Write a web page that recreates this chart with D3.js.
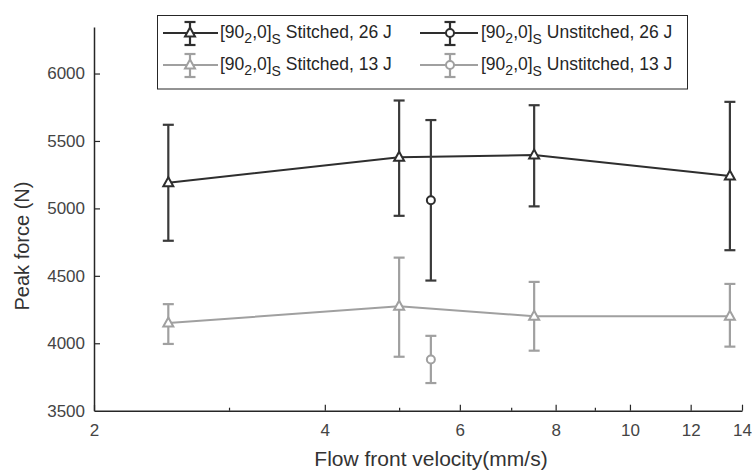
<!DOCTYPE html>
<html>
<head>
<meta charset="utf-8">
<script src="https://cdn.jsdelivr.net/npm/d3@7"></script>
<style>
  html, body { margin: 0; padding: 0; background: #fff; }
  svg { display: block; font-family: "Liberation Sans", Arial, Helvetica, sans-serif; }
</style>
</head>
<body>
<svg id="chart" width="752" height="471"></svg>
<script>
// ---- data ----
const velocities = [2.5, 5.0, 7.5, 13.5];
const stitched26 = [5190, 5380, 5395, 5240];
const stitched26Low = [4760, 4945, 5015, 4690];
const stitched26High = [5620, 5800, 5765, 5790];

const unstitchedVel = [5.5];
const unstitched26 = [5060];
const unstitched26Low = [4465];
const unstitched26High = [5655];

const stitched13 = [4150, 4275, 4200, 4200];
const stitched13Low = [3995, 3900, 3945, 3975];
const stitched13High = [4290, 4635, 4455, 4440];

const unstitched13 = [3880];
const unstitched13Low = [3705];
const unstitched13High = [4055];

const xMajorTicks = [2, 4, 6, 8, 10, 12, 14];
const xMinorTicks = [3, 5, 7, 9];
const yTicks = [3500, 4000, 4500, 5000, 5500, 6000];

const seriesNames = ["Stitched, 26 J", "Unstitched, 26 J", "Stitched, 13 J", "Unstitched, 13 J"];

// ---- layout ----
const svg = d3.select("#chart");
const dark = "#2e2e2e", gray = "#a0a0a0", axisCol = "#262626";

const x = d3.scaleLog().domain([2, 14]).range([94, 742]);
const y = d3.scaleLinear().domain([3500, 6345]).range([410.7, 27]);

// axes
const xAxis = d3.axisBottom(x).tickValues(xMajorTicks).tickFormat(d3.format("d")).tickSizeInner(-6).tickSizeOuter(0).tickPadding(13);
const gx = svg.append("g").attr("transform", `translate(0,${y(3500)})`).call(xAxis);
gx.select(".domain").attr("stroke", axisCol).attr("stroke-width", 1.5);
gx.selectAll(".tick line").attr("stroke", axisCol).attr("stroke-width", 1.2);
gx.selectAll(".tick text").attr("font-size", 17).attr("fill", "#444").attr("font-family", "Liberation Sans, Arial, sans-serif");

const xMinor = d3.axisBottom(x).tickValues(xMinorTicks).tickFormat("").tickSizeInner(-3).tickSizeOuter(0);
const gxm = svg.append("g").attr("transform", `translate(0,${y(3500)})`).call(xMinor);
gxm.select(".domain").remove();
gxm.selectAll(".tick line").attr("stroke", axisCol).attr("stroke-width", 1.2);

const yAxis = d3.axisLeft(y).tickValues(yTicks).tickFormat(d3.format("d")).tickSizeInner(-6).tickSizeOuter(0).tickPadding(9);
const gy = svg.append("g").attr("transform", `translate(${x(2)},0)`).call(yAxis);
gy.select(".domain").attr("stroke", axisCol).attr("stroke-width", 1.5);
gy.selectAll(".tick line").attr("stroke", axisCol).attr("stroke-width", 1.2);
gy.selectAll(".tick text").attr("font-size", 17).attr("fill", "#444").attr("font-family", "Liberation Sans, Arial, sans-serif");
gy.selectAll(".tick").filter(d => d === 3500).select("line").remove();

// axis labels
svg.append("text").attr("x", 431).attr("y", 466).attr("text-anchor", "middle")
  .attr("font-size", 21).attr("fill", "#333").text("Flow front velocity(mm/s)");
svg.append("text").attr("transform", "translate(29,246) rotate(-90)").attr("text-anchor", "middle")
  .attr("font-size", 20).attr("fill", "#333").text("Peak force (N)");

// ---- marks ----
function errorBars(xs, lo, hi, color) {
  const g = svg.append("g").attr("stroke", color).attr("stroke-width", 2.2).attr("fill", "none");
  xs.forEach((v, i) => {
    const cx = x(v);
    g.append("line").attr("x1", cx).attr("x2", cx).attr("y1", y(lo[i])).attr("y2", y(hi[i]));
    g.append("line").attr("x1", cx - 5.5).attr("x2", cx + 5.5).attr("y1", y(lo[i])).attr("y2", y(lo[i]));
    g.append("line").attr("x1", cx - 5.5).attr("x2", cx + 5.5).attr("y1", y(hi[i])).attr("y2", y(hi[i]));
  });
}
function lineSeries(xs, vals, color) {
  const line = d3.line().x((d, i) => x(xs[i])).y(d => y(d));
  svg.append("path").datum(vals).attr("d", line).attr("fill", "none").attr("stroke", color).attr("stroke-width", 2);
}
const triPath = "M0,-5.5 L5,3.5 L-5,3.5 Z";
function triangles(xs, vals, color) {
  xs.forEach((v, i) => {
    svg.append("path").attr("d", triPath).attr("transform", `translate(${x(v)},${y(vals[i])})`)
      .attr("fill", "#fff").attr("stroke", color).attr("stroke-width", 2).attr("stroke-linejoin", "miter");
  });
}
function circles(xs, vals, color) {
  xs.forEach((v, i) => {
    svg.append("circle").attr("cx", x(v)).attr("cy", y(vals[i])).attr("r", 4)
      .attr("fill", "#fff").attr("stroke", color).attr("stroke-width", 2);
  });
}

errorBars(velocities, stitched13Low, stitched13High, gray);
lineSeries(velocities, stitched13, gray);
triangles(velocities, stitched13, gray);
errorBars(unstitchedVel, unstitched13Low, unstitched13High, gray);
circles(unstitchedVel, unstitched13, gray);

errorBars(velocities, stitched26Low, stitched26High, "#3a3a3a");
lineSeries(velocities, stitched26, dark);
triangles(velocities, stitched26, dark);
errorBars(unstitchedVel, unstitched26Low, unstitched26High, "#3a3a3a");
circles(unstitchedVel, unstitched26, dark);

// ---- legend ----
const leg = svg.append("g");
leg.append("rect").attr("x", 157.5).attr("y", 15.5).attr("width", 530).attr("height", 73.5)
  .attr("fill", "#fff").attr("stroke", axisCol).attr("stroke-width", 1);

const legendItems = [
  { name: seriesNames[0], color: dark, marker: "tri", col: 0, row: 0 },
  { name: seriesNames[1], color: dark, marker: "circ", col: 1, row: 0 },
  { name: seriesNames[2], color: gray, marker: "tri", col: 0, row: 1 },
  { name: seriesNames[3], color: gray, marker: "circ", col: 1, row: 1 }
];
const colX = [{ l0: 163, l1: 218, m: 190, t: 220 }, { l0: 420, l1: 478, m: 450, t: 481 }];
const rowY = [33, 65];
legendItems.forEach(it => {
  const c = colX[it.col], yy = rowY[it.row];
  const g = leg.append("g");
  g.append("line").attr("x1", c.l0).attr("x2", c.l1).attr("y1", yy).attr("y2", yy).attr("stroke", it.color).attr("stroke-width", 2);
  const eb = g.append("g").attr("stroke", it.color).attr("stroke-width", 2.2);
  eb.append("line").attr("x1", c.m).attr("x2", c.m).attr("y1", yy - 11).attr("y2", yy + 12);
  eb.append("line").attr("x1", c.m - 5.5).attr("x2", c.m + 5.5).attr("y1", yy - 11).attr("y2", yy - 11);
  eb.append("line").attr("x1", c.m - 5.5).attr("x2", c.m + 5.5).attr("y1", yy + 12).attr("y2", yy + 12);
  if (it.marker === "tri") {
    g.append("path").attr("d", triPath).attr("transform", `translate(${c.m},${yy})`)
      .attr("fill", "#fff").attr("stroke", it.color).attr("stroke-width", 2);
  } else {
    g.append("circle").attr("cx", c.m).attr("cy", yy).attr("r", 4)
      .attr("fill", "#fff").attr("stroke", it.color).attr("stroke-width", 2);
  }
  const t = g.append("text").attr("x", c.t).attr("y", yy + 5).attr("font-size", 17.5).attr("fill", "#262626");
  t.append("tspan").text("[90");
  t.append("tspan").attr("font-size", 14).attr("dy", 5).text("2");
  t.append("tspan").attr("dy", -5).text(",0]");
  t.append("tspan").attr("font-size", 14).attr("dy", 6).text("S");
  t.append("tspan").attr("dy", -6).text(" " + it.name);
});
</script>
</body>
</html>
